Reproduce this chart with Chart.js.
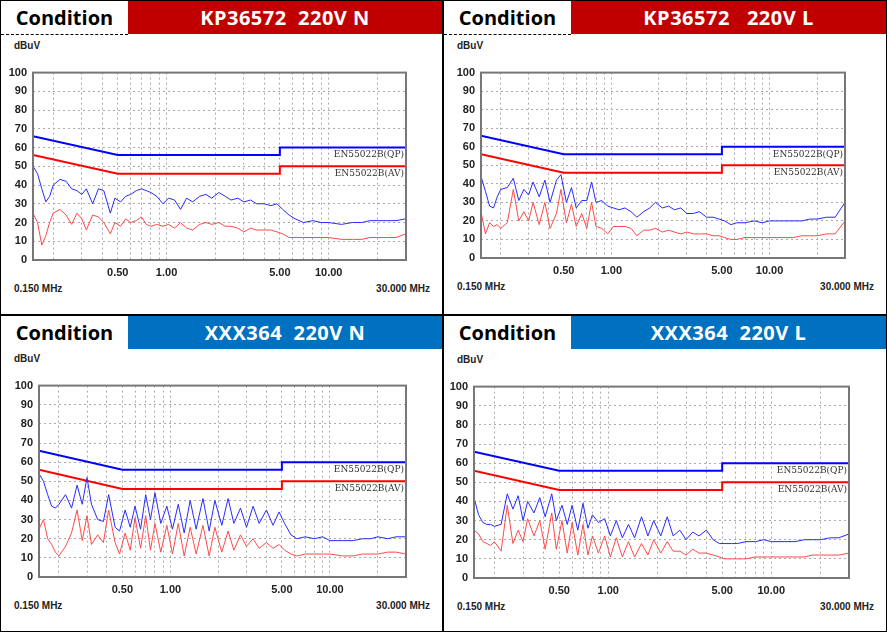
<!DOCTYPE html>
<html>
<head>
<meta charset="utf-8">
<script src="https://cdn.jsdelivr.net/npm/chart.js@4/dist/chart.umd.min.js"></script>
<style>
  body { margin: 0; background: #fff; }
  #wrap { position: relative; width: 887px; height: 632px; overflow: hidden; }
  .panel { position: absolute; border: 1px solid #000; box-sizing: border-box; background: #fff; }
  .cond { position: absolute; left: 0; top: 0; width: 127px; height: 33px; font: bold 20px "Open Sans", sans-serif; line-height: 33px; text-align: center; color: #000; }
  .bar { position: absolute; left: 127px; top: 0; right: 0; height: 33px; font: bold 20px "Open Sans", sans-serif; line-height: 33px; text-align: center; color: #fff; white-space: pre; letter-spacing: 0.5px; }
  .dots { position: absolute; left: 0; top: 33px; width: 127px; border-top: 1px dashed #000; }
  .lbl { position: absolute; font: bold 10px "Liberation Sans", sans-serif; color: #222; white-space: nowrap; }
  canvas { position: absolute; }
</style>
</head>
<body>
<div id="wrap"></div>
<script>
// frequencies in MHz, shared by all traces
const freqs = [0.15,0.16,0.17,0.18,0.19,0.2,0.22,0.24,0.26,0.28,0.3,0.32,0.35,0.38,0.41,0.45,0.48,0.52,0.56,0.6,
  0.65,0.7,0.75,0.8,0.87,0.95,1.03,1.12,1.22,1.33,1.45,1.6,1.75,1.9,2.1,2.3,2.5,2.75,3.0,3.3,
  3.6,4.0,4.4,4.8,5.2,5.7,6.2,7,8,9,10,12,14,16,18,20,23,26,30];

// EN55022B limits
const qpLimit = [[0.15,66],[0.5,56],[5,56],[5,60],[30,60]];
const avLimit = [[0.15,56],[0.5,46],[5,46],[5,50],[30,50]];

const kpNBlue = [50,46,38,31,34,40,43,42,38,37,35,38,30,38,37,25,33,31,34,35,
  37,38,37,36,34,30,33,32,27,33,31,34,35,33,36,34,32,33,31,32,
  30,30,29,30,27,24,22,20,21,20,20,19,20,20,21,21,21,21,22];
const kpNRed = [25,20,8,13,20,25,27,24,19,25,22,16,24,23,20,14,20,18,22,20,
  21,23,19,18,19,18,19,17,20,17,16,19,20,19,20,18,18,17,15,17,
  16,16,16,15,14,12,12,12,12,12,12,11,11,11,12,12,12,12,14];

const kpLBlue = [44,36,28,27,33,37,38,43,31,37,34,41,33,42,30,42,45,30,38,27,
  31,31,41,30,31,28,27,26,27,25,22,25,27,30,27,28,26,27,24,24,
  25,22,22,21,20,18,19,19,20,19,20,20,20,20,21,21,22,22,30];
const kpLRed = [25,13,19,17,18,16,19,37,20,25,20,30,18,30,16,24,37,19,29,17,
  24,16,30,17,16,13,17,17,17,16,12,15,15,16,14,15,14,13,14,13,
  13,13,12,12,11,10,10,11,11,11,11,11,11,12,12,12,13,13,20];

const xxNBlue = [54,50,43,37,36,38,43,36,48,38,52,38,30,29,43,26,24,35,26,37,
  25,43,30,44,28,37,25,38,23,40,25,41,24,40,27,41,28,36,26,37,
  28,35,27,34,28,22,20,21,20,21,19,19,19,20,20,21,20,21,21];
const xxNRed = [25,30,20,17,13,11,16,23,35,19,32,17,22,18,35,18,12,23,14,31,
  15,32,14,28,13,27,12,28,11,26,12,27,11,26,13,24,14,22,16,20,
  15,18,15,17,14,12,11,12,12,12,12,11,11,12,12,12,13,13,12];

const xxLBlue = [42,33,29,28,28,27,28,44,36,43,30,40,34,42,32,44,30,38,28,38,
  25,39,26,33,29,31,22,30,21,28,21,32,22,30,22,32,22,25,20,24,
  22,25,20,18,18,18,18,19,19,20,19,19,19,20,20,20,21,21,23];
const xxLRed = [25,23,19,18,17,19,14,38,18,25,19,31,22,30,15,34,15,30,13,29,
  12,28,12,22,13,22,11,21,11,19,11,18,12,20,13,19,14,14,12,15,
  13,13,12,11,10,10,10,10,11,11,11,11,11,11,12,12,12,12,13];

const yTicks = [0,10,20,30,40,50,60,70,80,90,100];
const xGrid = [0.2,0.3,0.4,0.5,0.6,0.7,0.8,0.9,1,2,3,4,5,6,7,8,9,10,20];
const xLabels = { 0.5: '0.50', 1: '1.00', 5: '5.00', 10: '10.00' };

// panel placement and plot box (page px)
const panels = [
  { x: 0,   y: 0,   w: 443, h: 315, title: 'KP36572  220V N',  color: '#C00000', plot: [33, 72, 406, 260],  blue: kpNBlue, red: kpNRed, dots: true },
  { x: 443, y: 0,   w: 444, h: 315, title: 'KP36572   220V L', color: '#C00000', plot: [481, 72, 845, 258], blue: kpLBlue, red: kpLRed, dots: true },
  { x: 0,   y: 315, w: 443, h: 317, title: 'XXX364  220V N',   color: '#0070C0', plot: [39, 385, 406, 577], blue: xxNBlue, red: xxNRed },
  { x: 443, y: 315, w: 444, h: 317, title: 'XXX364  220V L',   color: '#0070C0', plot: [474, 386, 849, 578], blue: xxLBlue, red: xxLRed }
];

const pts = arr => arr.map(p => ({ x: p[0], y: p[1] }));
const trace = vals => vals.map((v, i) => ({ x: freqs[i], y: v }));

const limitLabels = {
  id: 'limitLabels',
  afterDatasetsDraw(chart) {
    const { ctx, chartArea, scales } = chart;
    ctx.save();
    // plot frame
    ctx.strokeStyle = '#777';
    ctx.lineWidth = 2;
    ctx.strokeRect(chartArea.left, chartArea.top, chartArea.right - chartArea.left, chartArea.bottom - chartArea.top);
    ctx.font = '9px "DejaVu Serif", serif';
    ctx.fillStyle = '#333';
    ctx.textAlign = 'right';
    ctx.textBaseline = 'top';
    ctx.fillText('EN55022B(QP)', chartArea.right - 2, scales.y.getPixelForValue(60) + 3);
    ctx.fillText('EN55022B(AV)', chartArea.right - 2, scales.y.getPixelForValue(50) + 3);
    ctx.restore();
  }
};

const wrap = document.getElementById('wrap');

panels.forEach(p => {
  const div = document.createElement('div');
  div.className = 'panel';
  Object.assign(div.style, { left: p.x + 'px', top: p.y + 'px', width: p.w + 'px', height: p.h + 'px' });
  div.innerHTML = `<div class="cond">Condition</div><div class="bar" style="background:${p.color}">${p.title}</div>` +
    (p.dots ? '<div class="dots"></div>' : '');
  wrap.appendChild(div);

  const [pl, pt, pr, pb] = p.plot;
  const addLbl = (text, left, top, right) => {
    const l = document.createElement('div');
    l.className = 'lbl';
    l.textContent = text;
    l.style.top = top + 'px';
    if (right != null) l.style.right = right + 'px'; else l.style.left = left + 'px';
    wrap.appendChild(l);
  };
  addLbl('dBuV', p.x + 14, pt - 32);
  addLbl('0.150 MHz', p.x + 14, pb + 23);
  addLbl('30.000 MHz', 0, pb + 23, 887 - (p.x + p.w) + 13);

  // canvas covers plot plus axis label room
  const cLeft = p.x + 2, cTop = pt - 12, cW = pr - cLeft + 4, cH = pb - cTop + 22;
  const canvas = document.createElement('canvas');
  Object.assign(canvas.style, { left: cLeft + 'px', top: cTop + 'px', width: cW + 'px', height: cH + 'px' });
  wrap.appendChild(canvas);

  new Chart(canvas, {
    type: 'line',
    data: {
      datasets: [
        { data: trace(p.blue), borderColor: '#2a2aff', borderWidth: 1 },
        { data: trace(p.red), borderColor: '#ff4a4a', borderWidth: 1 },
        { data: pts(qpLimit), borderColor: '#0000ff', borderWidth: 2 },
        { data: pts(avLimit), borderColor: '#ff0000', borderWidth: 2 }
      ]
    },
    options: {
      responsive: false,
      animation: false,
      devicePixelRatio: 1,
      events: [],
      layout: { padding: { top: 12, right: cW - (pr - cLeft), left: 0, bottom: 0 } },
      elements: { point: { radius: 0 }, line: { tension: 0 } },
      plugins: { legend: { display: false }, tooltip: { enabled: false } },
      scales: {
        x: {
          type: 'logarithmic', min: 0.15, max: 30,
          afterBuildTicks: s => { s.ticks = xGrid.map(v => ({ value: v })); },
          afterFit: s => { s.height = cH - (pb - cTop); },
          ticks: {
            autoSkip: false, maxRotation: 0, padding: 6,
            callback: v => xLabels[v] || '',
            font: { family: 'Liberation Sans', size: 11, weight: 'bold' }, color: '#222'
          },
          grid: { color: '#aaa', lineWidth: 1, tickLength: 0 },
          border: { display: false, dash: [2, 3] }
        },
        y: {
          min: 0, max: 100,
          afterBuildTicks: s => { s.ticks = yTicks.map(v => ({ value: v })); },
          afterFit: s => { s.width = pl - cLeft; },
          ticks: { font: { family: 'Liberation Sans', size: 11, weight: 'bold' }, color: '#222', padding: 6 },
          grid: { color: '#aaa', lineWidth: 1, tickLength: 0 },
          border: { display: false, dash: [2, 3] }
        }
      }
    },
    plugins: [limitLabels]
  });
});
</script>
</body>
</html>
